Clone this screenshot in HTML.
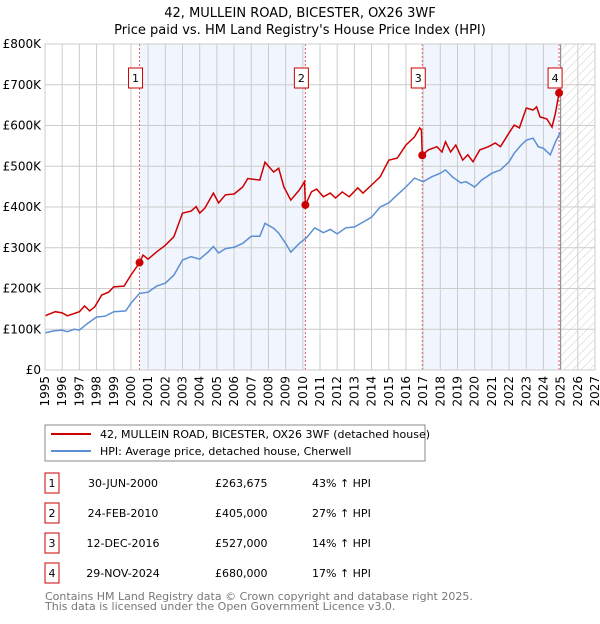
<!DOCTYPE html>
<html><head><meta charset="utf-8"><style>
body{margin:0;background:#fff;font-family:"DejaVu Sans","Liberation Sans",sans-serif;}
svg text{font-family:"DejaVu Sans","Liberation Sans",sans-serif;}
</style></head><body>
<svg width="600" height="620" xmlns="http://www.w3.org/2000/svg">
<defs><pattern id="hatch" width="6" height="6" patternUnits="userSpaceOnUse" patternTransform="rotate(45)"><line x1="0" y1="0" x2="0" y2="6" stroke="#ccc" stroke-width="1"/></pattern></defs>
<text x="300" y="17" text-anchor="middle" font-size="13">42, MULLEIN ROAD, BICESTER, OX26 3WF</text>
<text x="300" y="34" text-anchor="middle" font-size="13">Price paid vs. HM Land Registry's House Price Index (HPI)</text>
<g id="plot"></g>
<g>
<rect x="45" y="425" width="380" height="36" fill="#fff" stroke="#888"/>
<line x1="51" y1="434" x2="91" y2="434" stroke="#cc0000" stroke-width="2"/>
<text x="100" y="438" font-size="11">42, MULLEIN ROAD, BICESTER, OX26 3WF (detached house)</text>
<line x1="51" y1="451" x2="91" y2="451" stroke="#5b8fd4" stroke-width="2"/>
<text x="100" y="455" font-size="11">HPI: Average price, detached house, Cherwell</text>
</g>
<g id="table"></g>
<text x="45" y="600" font-size="11" fill="#777">Contains HM Land Registry data © Crown copyright and database right 2025.</text>
<text x="45" y="610" font-size="11" fill="#777">This data is licensed under the Open Government Licence v3.0.</text>
</svg>
<script>
const hpiYears=[1995,1995.5,1996,1996.3,1996.7,1997,1997.5,1998,1998.5,1999,1999.7,2000,2000.5,2001,2001.5,2002,2002.5,2003,2003.5,2004,2004.5,2004.8,2005.1,2005.5,2006,2006.5,2007,2007.5,2007.8,2008.3,2008.6,2009,2009.3,2009.8,2010.2,2010.7,2011.2,2011.6,2012,2012.5,2013,2013.5,2014,2014.5,2015,2015.5,2016,2016.5,2017,2017.5,2018,2018.3,2018.7,2019.2,2019.5,2020,2020.4,2021,2021.5,2022,2022.3,2022.7,2023,2023.4,2023.7,2024,2024.4,2024.7,2025];
const hpiValues=[91,96,98,94,100,98,115,130,132,143,145,164,188,191,206,213,233,270,278,272,290,303,287,298,301,311,328,328,360,348,336,311,289,311,324,349,337,345,334,349,351,363,375,400,410,430,449,471,462,474,483,491,474,459,462,449,466,483,491,511,532,552,564,569,548,544,528,560,584];
const redYears=[1995,1995.6,1996,1996.3,1997,1997.3,1997.6,1997.9,1998.3,1998.7,1999,1999.6,2000,2000.5,2000.7,2001,2001.5,2002,2002.5,2003,2003.5,2003.8,2004,2004.3,2004.8,2005.1,2005.5,2006,2006.5,2006.8,2007.5,2007.8,2008.3,2008.6,2008.9,2009.3,2009.8,2010.1,2010.15,2010.5,2010.8,2011.2,2011.6,2011.9,2012.3,2012.7,2013.2,2013.5,2014,2014.5,2015,2015.5,2016,2016.5,2016.8,2016.9,2016.95,2017.3,2017.8,2018.1,2018.3,2018.6,2018.9,2019.3,2019.6,2019.9,2020.3,2020.8,2021.2,2021.5,2022,2022.3,2022.6,2023,2023.4,2023.6,2023.8,2024.2,2024.5,2024.7,2024.91];
const redValues=[133,143,140,133,143,157,145,155,184,191,204,206,233,263,282,272,290,306,327,385,390,401,385,397,434,410,430,432,449,470,466,510,486,495,449,417,442,462,405,437,444,425,434,422,437,425,447,434,454,474,515,520,552,572,594,589,527,540,548,535,560,535,552,515,528,511,540,548,557,548,582,601,594,643,638,646,621,616,596,631,680];
const saleYears=[2000.5,2010.15,2016.95,2024.91];
const salePrices=[263.675,405,527,680];
const saleLabels=["1","2","3","4"];
const saleDates=["30-JUN-2000","24-FEB-2010","12-DEC-2016","29-NOV-2024"];
const salePriceText=["£263,675","£405,000","£527,000","£680,000"];
const saleHpiText=["43% ↑ HPI","27% ↑ HPI","14% ↑ HPI","17% ↑ HPI"];
const yTicks=[0,100,200,300,400,500,600,700,800];
const yTickLabels=["£0","£100K","£200K","£300K","£400K","£500K","£600K","£700K","£800K"];
const xTicks=[1995,1996,1997,1998,1999,2000,2001,2002,2003,2004,2005,2006,2007,2008,2009,2010,2011,2012,2013,2014,2015,2016,2017,2018,2019,2020,2021,2022,2023,2024,2025,2026,2027];

const X0=45,X1=595,Y0=370,Y1=44;
const xs=y=>X0+(y-1995)/(2027-1995)*(X1-X0);
const ys=v=>Y0-v/800*(Y0-Y1);
const NS="http://www.w3.org/2000/svg";
const plot=document.getElementById('plot');
function mk(tag,attrs,parent){const e=document.createElementNS(NS,tag);for(const k in attrs)e.setAttribute(k,attrs[k]);(parent||plot).appendChild(e);return e;}
// shaded regions
let r=mk('rect',{x:xs(saleYears[0]),y:Y1,width:xs(saleYears[1])-xs(saleYears[0]),height:Y0-Y1,fill:'#eef3fc',opacity:0.8});


r=mk('rect',{x:xs(saleYears[2]),y:Y1,width:xs(saleYears[3])-xs(saleYears[2]),height:Y0-Y1,fill:'#eef3fc',opacity:0.8});


r=mk('rect',{x:xs(2025),y:Y1,width:X1-xs(2025),height:Y0-Y1,fill:'url(#hatch)'});


// grid
xTicks.forEach(t=>{const l=mk('line',{x1:xs(t),x2:xs(t),y1:Y1,y2:Y0,stroke:'#ccc','stroke-width':1});


const tx=mk('text',{x:0,y:0,'font-size':12,'text-anchor':'end',transform:`translate(${xs(t)+4},${Y0+6}) rotate(-90)`});tx.textContent=t;

});
yTicks.forEach((t,i)=>{const l=mk('line',{x1:X0,x2:X1,y1:ys(t),y2:ys(t),stroke:'#ccc','stroke-width':1});


const tx=mk('text',{x:X0-4,y:ys(t)+4,'font-size':12,'text-anchor':'end'});tx.textContent=yTickLabels[i];

});
r=mk('line',{x1:xs(2025),x2:xs(2025),y1:Y1,y2:Y0,stroke:'#888','stroke-width':1});


// sale lines
saleYears.forEach((s,i)=>{const l=mk('line',{x1:xs(s),x2:xs(s),y1:Y1,y2:Y0,stroke:'#e06060','stroke-width':1,'stroke-dasharray':'2,2'});

});
// series
const path=(xa,va)=>xa.map((x,i)=>(i?'L':'M')+xs(x).toFixed(1)+','+ys(va[i]).toFixed(1)).join('');
let p=mk('path',{d:path(hpiYears,hpiValues),fill:'none',stroke:'#5b8fd4','stroke-width':1.5});


p=mk('path',{d:path(redYears,redValues),fill:'none',stroke:'#cc0000','stroke-width':1.5});


saleYears.forEach((s,i)=>{const c=mk('circle',{cx:xs(s),cy:ys(salePrices[i]),r:4,fill:'#cc0000'});


const g=mk('g',{});


mk('rect',{x:xs(s)-11,y:68,width:14,height:20,fill:'#fff',stroke:'#cc0000'},g);
const t=mk('text',{x:xs(s)-4,y:82,'font-size':11,'text-anchor':'middle'},g);t.textContent=saleLabels[i];});
mk('rect',{x:X0,y:Y1,width:X1-X0,height:Y0-Y1,fill:'none',stroke:'#ccc'});
// table
const tb=document.getElementById('table');
saleLabels.forEach((lab,i)=>{const cy=483+i*30;
const g=mk('g',{},tb);


mk('rect',{x:45,y:cy-10,width:14,height:20,fill:'#fff',stroke:'#cc0000'},g);
let t=mk('text',{x:52,y:cy+4,'font-size':11,'text-anchor':'middle'},g);t.textContent=lab;
t=mk('text',{x:123,y:cy+4,'font-size':11,'text-anchor':'middle'},g);t.textContent=saleDates[i];
t=mk('text',{x:215,y:cy+4,'font-size':11},g);t.textContent=salePriceText[i];
t=mk('text',{x:312,y:cy+4,'font-size':11},g);t.textContent=saleHpiText[i];});
</script>
</body></html>
